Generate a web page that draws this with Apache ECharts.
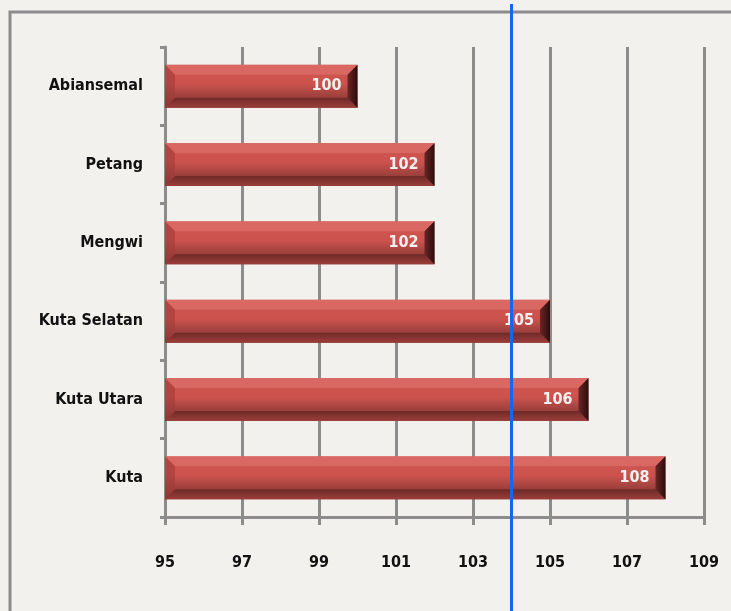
<!DOCTYPE html>
<html>
<head>
<meta charset="utf-8">
<script src="https://cdn.jsdelivr.net/npm/echarts@6/dist/echarts.min.js"></script>
<style>
  html, body { margin: 0; padding: 0; background: #f3f1ee; }
  #chart { width: 731px; height: 611px; }
</style>
</head>
<body>
<div id="chart"></div>
<script>
// data
const categories = ['Abiansemal', 'Petang', 'Mengwi', 'Kuta Selatan', 'Kuta Utara', 'Kuta'];
const values = [100, 102, 102, 105, 106, 108];
const referenceValue = 104;
const axisMin = 95;
const axisMax = 109;
const axisStep = 2;

const chart = echarts.init(document.getElementById('chart'), null, { renderer: 'canvas' });

const gray = '#8c8c8c';
const labelFont = '"DejaVu Sans Condensed", "DejaVu Sans", sans-serif';
const barHeight = 43;
const bevel = 10;

// bevelled bar, drawn from the axis coordinates
function renderBar(params, api) {
    const idx = api.value(0);
    const v = api.value(1);
    const start = api.coord([axisMin, idx]);
    const end = api.coord([v, idx]);
    const x0 = start[0], x1 = end[0];
    const y0 = end[1] - barHeight / 2, y1 = end[1] + barHeight / 2;
    const b = bevel;
    return {
        type: 'group',
        children: [
            {
                type: 'rect',
                shape: { x: x0, y: y0, width: x1 - x0, height: y1 - y0 },
                style: {
                    fill: new echarts.graphic.LinearGradient(0, 0, 0, 1, [
                        { offset: 0, color: '#d05652' },
                        { offset: 0.45, color: '#cc524e' },
                        { offset: 0.7, color: '#a3433f' },
                        { offset: 1, color: '#7a2f2c' }
                    ])
                }
            },
            {   // top face
                type: 'polygon',
                shape: { points: [[x0, y0], [x1, y0], [x1 - b, y0 + b], [x0 + b, y0 + b]] },
                style: { fill: 'rgba(225,120,115,0.55)' }
            },
            {   // bottom face
                type: 'polygon',
                shape: { points: [[x0, y1], [x1, y1], [x1 - b, y1 - b], [x0 + b, y1 - b]] },
                style: {
                    fill: new echarts.graphic.LinearGradient(0, 0, 0, 1, [
                        { offset: 0, color: '#6e2a28' },
                        { offset: 1, color: '#9c3e3a' }
                    ])
                }
            },
            {   // left face
                type: 'polygon',
                shape: { points: [[x0, y0], [x0 + b, y0 + b], [x0 + b, y1 - b], [x0, y1]] },
                style: { fill: 'rgba(160,60,56,0.6)' }
            },
            {   // right face
                type: 'polygon',
                shape: { points: [[x1, y0], [x1 - b, y0 + b], [x1 - b, y1 - b], [x1, y1]] },
                style: {
                    fill: new echarts.graphic.LinearGradient(0, 0, 1, 0, [
                        { offset: 0, color: '#6a2624' },
                        { offset: 1, color: '#2a0d0c' }
                    ])
                }
            },
            {
                type: 'text',
                z2: 10,
                style: {
                    text: String(v),
                    x: x1 - b - 6,
                    y: end[1],
                    align: 'right',
                    verticalAlign: 'middle',
                    fill: '#f4f0f0',
                    font: 'bold 16px ' + labelFont
                }
            }
        ]
    };
}

const option = {
    animation: false,
    backgroundColor: '#f3f1ee',
    grid: { left: 165, right: 27, top: 47, bottom: 94 },
    xAxis: {
        type: 'value',
        min: axisMin,
        max: axisMax,
        interval: axisStep,
        axisLine: { show: true, lineStyle: { color: gray, width: 3 } },
        axisTick: { show: true, length: 8, lineStyle: { color: gray, width: 3 } },
        splitLine: { show: true, lineStyle: { color: gray, width: 3 } },
        axisLabel: {
            margin: 38,
            color: '#111',
            fontFamily: labelFont,
            fontWeight: 'bold',
            fontSize: 16
        }
    },
    yAxis: {
        type: 'category',
        data: categories,
        inverse: true,
        axisLine: { show: true, lineStyle: { color: gray, width: 3 } },
        axisTick: { show: true, length: 5, lineStyle: { color: gray, width: 3 } },
        axisLabel: {
            margin: 22,
            color: '#111',
            fontFamily: labelFont,
            fontWeight: 'bold',
            fontSize: 16
        }
    },
    series: [
        {
            type: 'custom',
            renderItem: renderBar,
            encode: { x: 1, y: 0 },
            data: values.map((v, i) => [i, v]),
            z: 5
        }
    ]
};
chart.setOption(option);

// outer frame and full-height reference line, placed through the axis scale
const refX = chart.convertToPixel({ xAxisIndex: 0 }, referenceValue);
chart.setOption({
    graphic: [
        {
            type: 'rect',
            silent: true,
            z: -1,
            shape: { x: 10, y: 12, width: 760, height: 640 },
            style: { fill: 'none', stroke: gray, lineWidth: 3 }
        },
        {
            type: 'line',
            silent: true,
            z: 100,
            shape: { x1: refX, y1: 4, x2: refX, y2: 611 },
            style: { stroke: '#1466f0', lineWidth: 3 }
        }
    ]
});
</script>
</body>
</html>
